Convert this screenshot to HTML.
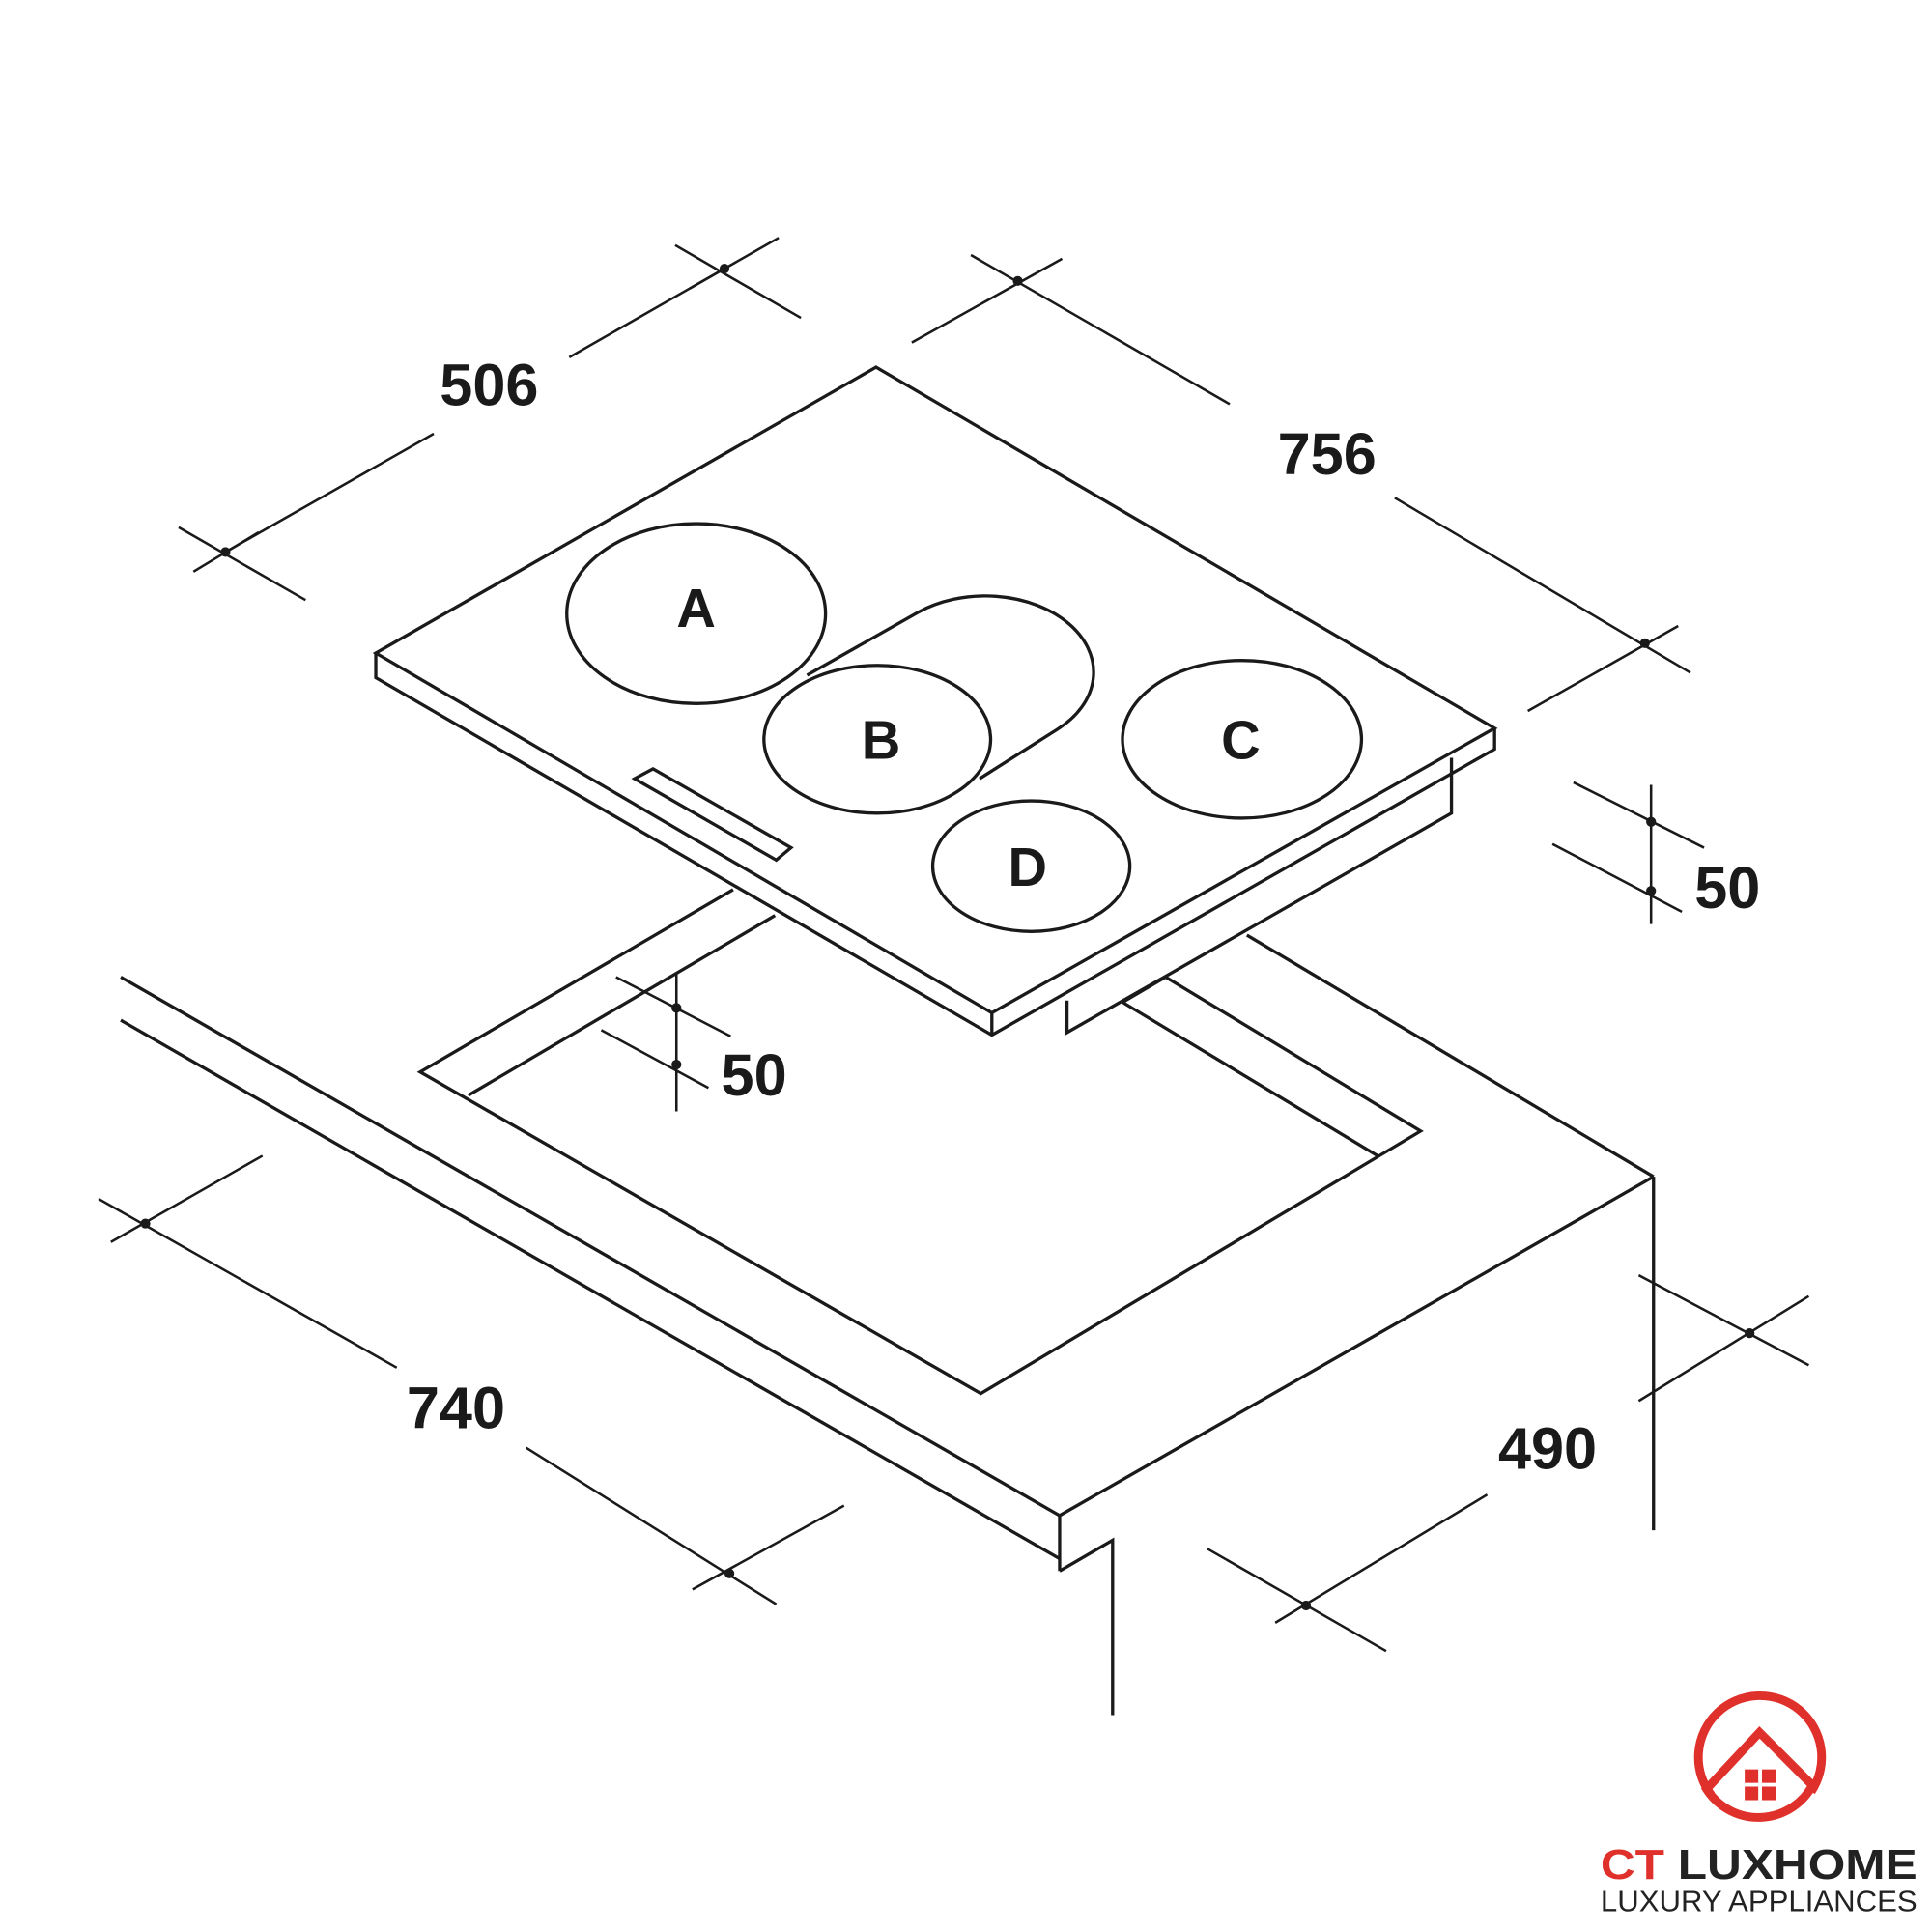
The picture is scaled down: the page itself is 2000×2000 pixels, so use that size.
<!DOCTYPE html>
<html><head><style>html,body{margin:0;padding:0;background:#fff}svg{display:block}</style></head><body>
<svg width="2000" height="2000" viewBox="0 0 1568 1568" xmlns="http://www.w3.org/2000/svg">
<g fill="none" stroke="#1a1a1a" stroke-width="2.6" stroke-linejoin="miter" stroke-linecap="butt">
<!-- counter -->
<line x1="98" y1="793" x2="860" y2="1230"/>
<line x1="98" y1="828" x2="860" y2="1265"/>
<line x1="860" y1="1230" x2="860" y2="1275"/>
<line x1="860" y1="1230" x2="1342" y2="955"/>
<polyline points="860,1275 903,1250 903,1392"/>
<line x1="1342" y1="955" x2="1342" y2="1242"/>
<line x1="1012" y1="759" x2="1342" y2="955"/>
<!-- cutout -->
<polyline points="595,722 341,870 796,1131 1153,918 946,793"/>
<line x1="629" y1="743" x2="380" y2="889"/>
<line x1="912" y1="814" x2="1118" y2="938"/>
<!-- cooktop underbody -->
<polyline points="1178,615 1178,660 866,838 866,812"/>
<line x1="946" y1="793" x2="910" y2="814"/>
<!-- cooktop -->
<polygon points="711,298 1213,591 805,822 305,530" fill="#fff"/>
<polyline points="305,530 305,550 805,840 1213,608 1213,591"/>
<line x1="805" y1="822" x2="805" y2="840"/>
<polygon points="515,632 530,624 642,688 630,698" fill="#fff"/>
<!-- zones -->
<ellipse cx="565" cy="498" rx="105" ry="73" fill="#fff"/>
<path d="M655,548 L745,497 A88,62 0 0 1 858,592 L795,632" fill="#fff"/>
<ellipse cx="712" cy="600" rx="92" ry="60" fill="#fff"/>
<ellipse cx="1008" cy="600" rx="97" ry="64"/>
<ellipse cx="837" cy="703" rx="80" ry="53"/>
</g>
<g fill="none" stroke="#1a1a1a" stroke-width="2">
<!-- 506 -->
<line x1="183" y1="448" x2="352" y2="352"/><line x1="462" y1="290" x2="588" y2="218"/>
<line x1="145" y1="428" x2="248" y2="487"/><line x1="157" y1="464" x2="210" y2="432"/>
<line x1="548" y1="199" x2="650" y2="258"/><line x1="560" y1="234" x2="632" y2="193"/>
<!-- 756 -->
<line x1="788" y1="207" x2="998" y2="328"/><line x1="1132" y1="404" x2="1372" y2="546"/>
<line x1="740" y1="278" x2="862" y2="210"/>
<line x1="1240" y1="577" x2="1362" y2="508"/>
<!-- 50 right -->
<line x1="1340" y1="637" x2="1340" y2="750"/>
<line x1="1277" y1="635" x2="1383" y2="688"/><line x1="1260" y1="685" x2="1365" y2="740"/>
<!-- 50 left -->
<line x1="549" y1="790" x2="549" y2="902"/>
<line x1="500" y1="793" x2="593" y2="841"/><line x1="488" y1="836" x2="575" y2="883"/>
<!-- 740 -->
<line x1="80" y1="973" x2="322" y2="1110"/><line x1="427" y1="1175" x2="630" y2="1302"/>
<line x1="90" y1="1008" x2="213" y2="938"/>
<line x1="562" y1="1290" x2="685" y2="1222"/>
<!-- 490 -->
<line x1="1035" y1="1317" x2="1207" y2="1213"/><line x1="1330" y1="1137" x2="1468" y2="1052"/>
<line x1="980" y1="1257" x2="1125" y2="1340"/>
<line x1="1330" y1="1035" x2="1468" y2="1108"/>
</g>
<g fill="#1a1a1a">
<circle cx="183" cy="448" r="4"/><circle cx="588" cy="218" r="4"/>
<circle cx="826" cy="228" r="4"/><circle cx="1335" cy="522" r="4"/>
<circle cx="1340" cy="667" r="4"/><circle cx="1340" cy="723" r="4"/>
<circle cx="549" cy="818" r="4"/><circle cx="549" cy="864" r="4"/>
<circle cx="118" cy="993" r="4"/><circle cx="592" cy="1277" r="4"/>
<circle cx="1060" cy="1303" r="4"/><circle cx="1420" cy="1082" r="4"/>
</g>
<g font-family="Liberation Sans, sans-serif" font-weight="bold" fill="#1a1a1a" text-anchor="middle">
<text x="397" y="329" font-size="48">506</text>
<text x="1077" y="385" font-size="48">756</text>
<text x="1402" y="737" font-size="48">50</text>
<text x="612" y="889" font-size="48">50</text>
<text x="370" y="1159" font-size="48">740</text>
<text x="1256" y="1192" font-size="48">490</text>
<text x="565" y="509" font-size="44">A</text>
<text x="715" y="616" font-size="44">B</text>
<text x="1007" y="616" font-size="44">C</text>
<text x="834" y="719" font-size="44">D</text>
</g>
<!-- logo -->
<g>
<path d="M1389,1457 A50,50 0 1 1 1470,1454" fill="none" stroke="#e0302b" stroke-width="7"/>
<path d="M1428,1406 L1471,1449 A50,50 0 0 1 1385,1452 Z" fill="none" stroke="#e0302b" stroke-width="7" stroke-linejoin="miter"/>
<rect x="1416" y="1436" width="11" height="11" fill="#e0302b"/><rect x="1430" y="1436" width="11" height="11" fill="#e0302b"/>
<rect x="1416" y="1450" width="11" height="11" fill="#e0302b"/><rect x="1430" y="1450" width="11" height="11" fill="#e0302b"/>
<text x="1299" y="1525" font-family="Liberation Sans, sans-serif" font-weight="bold" font-size="34" textLength="257" lengthAdjust="spacingAndGlyphs" fill="#222"><tspan fill="#e0302b">CT</tspan> LUXHOME</text>
<text x="1299" y="1551" font-family="Liberation Sans, sans-serif" font-size="24" textLength="257" lengthAdjust="spacingAndGlyphs" fill="#222">LUXURY APPLIANCES</text>
</g>
</svg>
</body></html>
